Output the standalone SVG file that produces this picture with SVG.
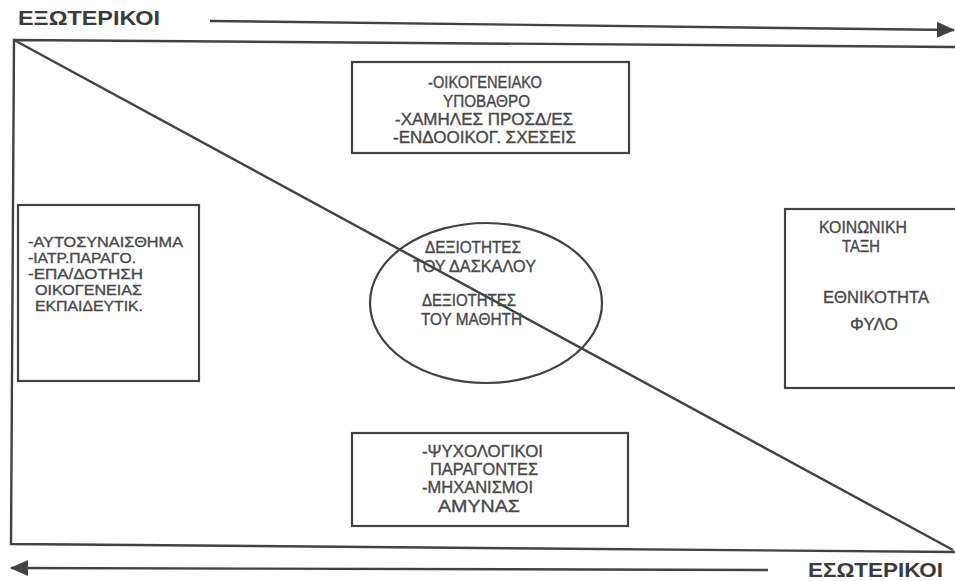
<svg xmlns="http://www.w3.org/2000/svg" width="955" height="581" viewBox="0 0 955 581">
<style>
.ln{fill:none;stroke:#424242;stroke-width:2.4}
.bx{fill:none;stroke:#424242;stroke-width:2.2}
.t{font-family:"Liberation Sans",Arial,sans-serif;font-size:16px;fill:#484848;stroke:#484848;stroke-width:0.35}
.s{font-size:14.5px}
.h{font-family:"Liberation Sans",Arial,sans-serif;font-size:20px;font-weight:bold;fill:#3a3a3a}
</style>
<defs>
<marker id="ah" viewBox="0 0 18 16" refX="17" refY="8" markerWidth="18" markerHeight="16" markerUnits="userSpaceOnUse" orient="auto">
<path d="M0,0 L18,8 L0,16 Z" fill="#424242"/>
</marker>
</defs>
<rect width="955" height="581" fill="#ffffff"/>
<g id="connectors">
<line class="ln" x1="210" y1="21" x2="954" y2="30" marker-end="url(#ah)"/>
<line class="ln" x1="768" y1="570" x2="11" y2="568" marker-end="url(#ah)"/>
<path class="ln" d="M956 47 L14 40 L11 544 L956 552" stroke-width="2.8"/>
<line class="ln" x1="14" y1="40" x2="953" y2="550"/>
</g>
<g id="label-top">
<text class="h" x="18" y="25" textLength="142" lengthAdjust="spacingAndGlyphs">ΕΞΩΤΕΡΙΚΟΙ</text>
</g>
<g id="label-bottom">
<text class="h" x="808" y="577" textLength="135" lengthAdjust="spacingAndGlyphs">ΕΣΩΤΕΡΙΚΟΙ</text>
</g>
<g id="node-top">
<rect class="bx" x="352" y="62" width="277" height="91"/>
<text class="t" x="428" y="88" textLength="114" lengthAdjust="spacingAndGlyphs">-ΟΙΚΟΓΕΝΕΙΑΚΟ</text>
<text class="t" x="443" y="107" textLength="87" lengthAdjust="spacingAndGlyphs">ΥΠΟΒΑΘΡΟ</text>
<text class="t" x="395" y="125" textLength="178" lengthAdjust="spacingAndGlyphs">-ΧΑΜΗΛΕΣ ΠΡΟΣΔ/ΕΣ</text>
<text class="t" x="393" y="143" textLength="183" lengthAdjust="spacingAndGlyphs">-ΕΝΔΟΟΙΚΟΓ. ΣΧΕΣΕΙΣ</text>
</g>
<g id="node-left">
<rect class="bx" x="18" y="205" width="181" height="176"/>
<text class="t s" x="28" y="247" textLength="155" lengthAdjust="spacingAndGlyphs">-ΑΥΤΟΣΥΝΑΙΣΘΗΜΑ</text>
<text class="t s" x="28" y="263" textLength="108" lengthAdjust="spacingAndGlyphs">-ΙΑΤΡ.ΠΑΡΑΓΟ.</text>
<text class="t s" x="28" y="279" textLength="115" lengthAdjust="spacingAndGlyphs">-ΕΠΑ/ΔΟΤΗΣΗ</text>
<text class="t s" x="35" y="295" textLength="107" lengthAdjust="spacingAndGlyphs">ΟΙΚΟΓΕΝΕΙΑΣ</text>
<text class="t s" x="35" y="311" textLength="108" lengthAdjust="spacingAndGlyphs">ΕΚΠΑΙΔΕΥΤΙΚ.</text>
</g>
<g id="node-center">
<ellipse class="bx" cx="486" cy="303" rx="116" ry="80"/>
<text class="t" x="425" y="253" textLength="96" lengthAdjust="spacingAndGlyphs">ΔΕΞΙΟΤΗΤΕΣ</text>
<text class="t" x="413" y="272" textLength="123" lengthAdjust="spacingAndGlyphs">ΤΟΥ ΔΑΣΚΑΛΟΥ</text>
<text class="t" x="422" y="306" textLength="94" lengthAdjust="spacingAndGlyphs">ΔΕΞΙΟΤΗΤΕΣ</text>
<text class="t" x="421" y="325" textLength="101" lengthAdjust="spacingAndGlyphs">ΤΟΥ ΜΑΘΗΤΗ</text>
</g>
<g id="node-right">
<rect class="bx" x="785" y="209" width="175" height="179"/>
<text class="t" x="819" y="233" textLength="88" lengthAdjust="spacingAndGlyphs">ΚΟΙΝΩΝΙΚΗ</text>
<text class="t" x="842" y="252" textLength="38" lengthAdjust="spacingAndGlyphs">ΤΑΞΗ</text>
<text class="t" x="823" y="303" textLength="106" lengthAdjust="spacingAndGlyphs">ΕΘΝΙΚΟΤΗΤΑ</text>
<text class="t" x="850" y="330" textLength="48" lengthAdjust="spacingAndGlyphs">ΦΥΛΟ</text>
</g>
<g id="node-bottom">
<rect class="bx" x="352" y="433" width="276" height="93"/>
<text class="t" x="422" y="457" textLength="121" lengthAdjust="spacingAndGlyphs">-ΨΥΧΟΛΟΓΙΚΟΙ</text>
<text class="t" x="430" y="475" textLength="108" lengthAdjust="spacingAndGlyphs">ΠΑΡΑΓΟΝΤΕΣ</text>
<text class="t" x="422" y="493" textLength="111" lengthAdjust="spacingAndGlyphs">-ΜΗΧΑΝΙΣΜΟΙ</text>
<text class="t" x="438" y="512" textLength="82" lengthAdjust="spacingAndGlyphs">ΑΜΥΝΑΣ</text>
</g>
</svg>
